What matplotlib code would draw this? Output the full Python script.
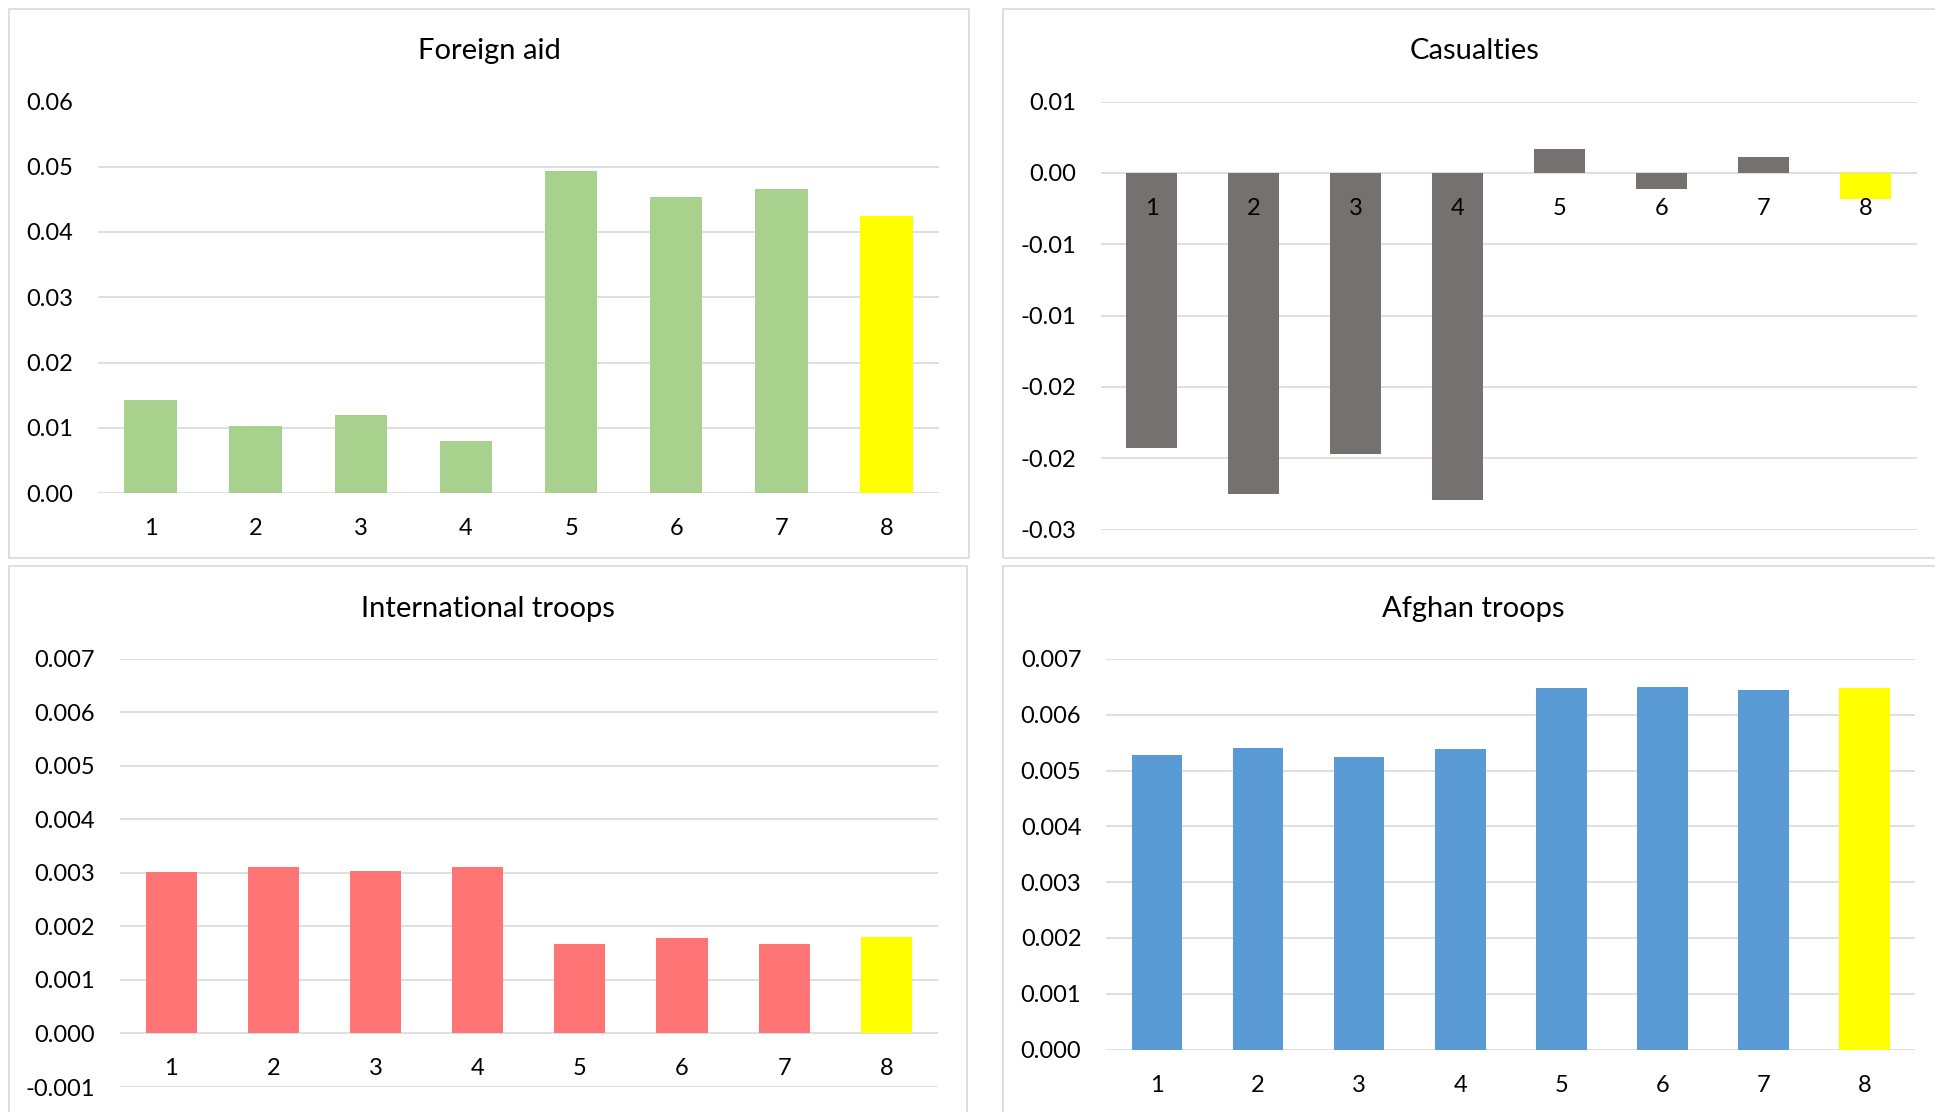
import numpy as np
import matplotlib
matplotlib.use('Agg')
import matplotlib.pyplot as plt
from matplotlib.patches import Rectangle
from matplotlib.ticker import FormatStrFormatter

plt.rcParams['font.family'] = ['Lato', 'DejaVu Sans']

# Estimated effects per model (8 models, model 8 highlighted)
models = ['1', '2', '3', '4', '5', '6', '7', '8']
foreign_aid = [0.0143, 0.0103, 0.0120, 0.0080, 0.0493, 0.0453, 0.0466, 0.0425]
casualties = [-0.0193, -0.0225, -0.0197, -0.0229, 0.0017, -0.00115, 0.0011, -0.0018]
intl_troops = [0.00301, 0.00311, 0.00303, 0.00312, 0.00167, 0.00178, 0.00168, 0.00180]
afghan_troops = [0.00527, 0.00540, 0.00525, 0.00539, 0.00648, 0.00650, 0.00645, 0.00648]

casualty_ticks = [0.005, 0.0, -0.005, -0.010, -0.015, -0.020, -0.025]
casualty_labels = ['0.01', '0.00', '-0.01', '-0.01', '-0.02', '-0.02', '-0.03']

W, H = 1935, 1112
fig = plt.figure(figsize=(W / 100, H / 100), dpi=100)
fig.patch.set_facecolor('white')

GRID = '#d9d9d9'
HIGHLIGHT = '#ffff00'


def px_axes(x0, y0, x1, y1):
    # axes from pixel box (top-left origin)
    return fig.add_axes([x0 / W, 1 - y1 / H, (x1 - x0) / W, (y1 - y0) / H])


def panel_frame(x0, y0, x1, y1, title, ty):
    fig.patches.append(Rectangle((x0 / W, 1 - y1 / H), (x1 - x0) / W, (y1 - y0) / H,
                                 transform=fig.transFigure, fill=False,
                                 edgecolor=GRID, linewidth=1.2, zorder=0))
    fig.text((x0 + x1) / 2 / W, 1 - ty / H, title, ha='center', va='center',
             fontsize=21, color='#000000')


def bar_panel(ax, values, color, ylim, yticks, ylabels=None, fmt=None):
    x = np.arange(len(models))
    colors = [color] * (len(models) - 1) + [HIGHLIGHT]
    ax.bar(x, values, width=0.5, color=colors, zorder=1)
    ax.set_xlim(-0.5, len(models) - 0.5)
    ax.set_ylim(*ylim)
    ax.set_yticks(yticks)
    if ylabels is not None:
        ax.set_yticklabels(ylabels)
    elif fmt is not None:
        ax.yaxis.set_major_formatter(FormatStrFormatter(fmt))
    ax.set_xticks(x)
    ax.set_xticklabels(models)
    ax.hlines(yticks, -0.5, len(models) - 0.5, colors=GRID, linewidth=1.2, zorder=0.5)
    for s in ax.spines.values():
        s.set_visible(False)
    ax.spines['bottom'].set_position(('data', 0))
    ax.tick_params(axis='both', length=0, labelsize=17, colors='#000000')
    ax.tick_params(axis='y', pad=18)
    ax.tick_params(axis='x', pad=18)
    ax.xaxis.set_zorder(3)
    ax.set_facecolor('none')


# panel borders and titles
panel_frame(9, 9, 969, 558, 'Foreign aid', 51)
panel_frame(1003, 9, 1947, 558, 'Casualties', 51)
panel_frame(9, 566, 967, 1130, 'International troops', 609)
panel_frame(1003, 566, 1944, 1130, 'Afghan troops', 609)

ax1 = px_axes(98, 101.5, 939, 493)
bar_panel(ax1, foreign_aid, '#a9d18e', (0, 0.06), np.arange(0, 0.061, 0.01), fmt='%.2f')

ax2 = px_axes(1101, 101.5, 1916.5, 529.5)
bar_panel(ax2, casualties, '#767171', (-0.025, 0.005), casualty_ticks, ylabels=casualty_labels)

ax3 = px_axes(120, 658.9, 937.5, 1087)
bar_panel(ax3, intl_troops, '#ff7575', (-0.001, 0.007), np.arange(-0.001, 0.00701, 0.001), fmt='%.3f')

ax4 = px_axes(1106.3, 658.9, 1915.3, 1049.6)
bar_panel(ax4, afghan_troops, '#5b9bd5', (0, 0.007), np.arange(0, 0.00701, 0.001), fmt='%.3f')

fig.savefig('out.png', dpi=100, facecolor='white')
